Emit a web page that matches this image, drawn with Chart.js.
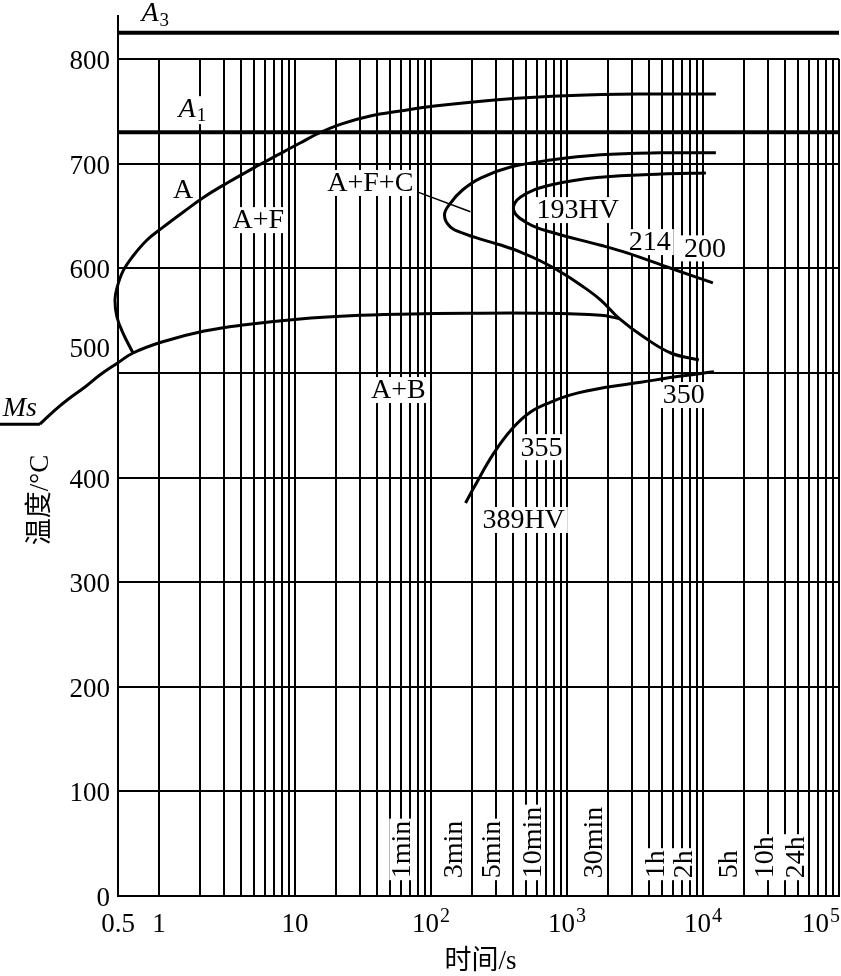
<!DOCTYPE html>
<html>
<head>
<meta charset="utf-8">
<title>CCT</title>
<script src="https://cdn.jsdelivr.net/npm/chart.js@4.4.0/dist/chart.umd.min.js"></script>
<style>
  html, body { margin: 0; padding: 0; background: #fff; }
  #wrap { width: 841px; height: 976px; }
</style>
</head>
<body>
<div id="wrap"><canvas id="cctChart" width="841" height="976" style="width:841px;height:976px"></canvas></div>
<script>
// 坐标轴刻度
const xTickValues = [0.5, 1, 10, 100, 1000, 10000, 100000];
const xTickLabels = [['0.5'], ['1'], ['10'], ['10', '2'], ['10', '3'], ['10', '4'], ['10', '5']];
const yTickValues = [0, 100, 200, 300, 400, 500, 600, 700, 800];
const yTickLabels = ['0', '100', '200', '300', '400', '500', '600', '700', '800'];

// 对数坐标纸的竖线 (1..9 x 10^k)
const xGridValues = [0.5];
for (let k = 0; k < 5; k++) {
  for (let m = 1; m < 10; m++) xGridValues.push(m * Math.pow(10, k));
}
xGridValues.push(100000);

// 临界温度
const a3Temp = 825;
const a1Temp = 730;
const msTemp = 451;
const axisTopTemp = 842;

// 铁素体开始线 (A / A+F)
const ferriteTime = [0.645, 0.544, 0.491, 0.475, 0.491, 0.544, 0.645, 0.817, 1.05, 1.504, 2.15, 3.17, 5.27, 7.80, 10.9, 14.8, 21.8, 35.8, 59.6, 106, 325, 1084, 3490, 12440];
const ferriteTemp = [519, 538, 553.4, 569.6, 581, 597.3, 611.7, 627, 638.4, 653.6, 668.1, 681.5, 697.7, 709.6, 719.7, 728.8, 737.8, 745.5, 750.3, 755, 761.3, 765.1, 766.5, 766.5];

// 贝氏体开始线 (从右到左)
const bainiteTime = [2400, 1770, 640, 195, 59.6, 25.5, 10.9, 4.30, 2.15, 1.05, 0.645, 0.491, 0.368, 0.286, 0.221, 0.172, 0.1333];
const bainiteTemp = [552, 555, 557, 557, 556, 554.5, 551.5, 546, 540, 529.5, 519, 509, 498, 486.5, 476, 464.5, 451];

// Ms 水平段
const msTime = [0.1333, 0.066];

// 珠光体开始线 (A+F+C)
const pearliteStartTime = [12440, 4900, 1771, 758, 385, 231.5, 170.6, 139.2, 125.7, 139.2, 179.6, 231.5, 325, 456, 640, 899, 1261, 1771, 2403, 3672, 5801, 9329];
const pearliteStartTemp = [710.3, 710.3, 708.4, 703.4, 696.7, 686.2, 674.8, 662.3, 650.9, 639.4, 632.7, 627.9, 622.2, 615.5, 606.9, 596.4, 584, 569.6, 552.4, 534.3, 519, 512.3];

// 珠光体终了线
const pearliteEndTime = [10500, 4900, 1770, 758, 456, 405, 514, 758, 1770, 2800, 5790, 11830];
const pearliteEndTemp = [691, 690, 687, 679.5, 668, 655.6, 643, 634.6, 622, 614.5, 600, 586];

// 贝氏体转变线 (389HV ~ 350)
const lowerTime = [179.5, 206, 289, 398, 540, 759, 1065, 1995, 3490, 6110, 12030];
const lowerTemp = [375.6, 390, 423, 447, 462.6, 472, 479, 486.5, 491, 496, 501];

// A+F+C 引线
const leaderTime = [79.4, 195];
const leaderTemp = [673, 654];

// 区域与硬度标注
const regionText = ['A', 'A+F', 'A+F+C', '193HV', '214', '200', 'A+B', '350', '355', '389HV'];
const regionTime = [1.505, 5.37, 35.8, 1200, 4060, 10330, 57.5, 7230, 651, 480];
const regionTemp = [675, 646, 681.5, 655.6, 625, 619, 483.6, 478.8, 429, 359.4];

// 时间标注
const markText = ['1min', '3min', '5min', '10min', '30min', '1h', '2h', '5h', '10h', '24h'];
const markTime = [60.5, 146.5, 279, 559, 1573, 4500, 7230, 15500, 28500, 48200];
const markBaseTemp = 17;

// 临界点标注
const critText = ['A', 'A', 'Ms'];
const critSub = ['3', '1', ''];
const critTime = [0.86, 1.61, 0.0948];
const critTemp = [844, 753, 466.4];

const serif = '"Liberation Serif", "Times New Roman", serif';
const cjk = '"Liberation Serif", "Noto Sans CJK SC", sans-serif';

function pts(times, temps) {
  return times.map((t, i) => ({ x: t, y: temps[i] }));
}

function curve(label, data, width, tension) {
  return {
    label: label,
    data: data,
    borderColor: '#000',
    borderWidth: width,
    pointRadius: 0,
    tension: tension,
    fill: false,
    clip: false
  };
}

const labelPlugin = {
  id: 'cctLabels',
  beforeDatasetsDraw(chart) {
    const { ctx, scales: { x, y } } = chart;
    ctx.save();
    ctx.textBaseline = 'middle';
    ctx.font = '28px ' + serif;

    // 区域标注 (白底遮住网格)
    ctx.textAlign = 'center';
    regionText.forEach((txt, i) => {
      const px = x.getPixelForValue(regionTime[i]);
      const py = y.getPixelForValue(regionTemp[i]);
      const w = ctx.measureText(txt).width;
      ctx.fillStyle = '#fff';
      ctx.fillRect(px - w / 2 - 3, py - 13, w + 6, 26);
      ctx.fillStyle = '#000';
      ctx.fillText(txt, px, py + 1);
    });

    // 竖排时间标注
    markText.forEach((txt, i) => {
      const px = x.getPixelForValue(markTime[i]);
      const py = y.getPixelForValue(markBaseTemp);
      ctx.save();
      ctx.translate(px, py);
      ctx.rotate(-Math.PI / 2);
      ctx.textAlign = 'left';
      const w = ctx.measureText(txt).width;
      ctx.fillStyle = '#fff';
      ctx.fillRect(-2, -12, w + 4, 24);
      ctx.fillStyle = '#000';
      ctx.fillText(txt, 0, 1);
      ctx.restore();
    });

    // A3, A1, Ms
    critText.forEach((txt, i) => {
      const px = x.getPixelForValue(critTime[i]);
      const py = y.getPixelForValue(critTemp[i]);
      ctx.font = 'italic 28px ' + serif;
      ctx.textAlign = 'center';
      const w = ctx.measureText(txt).width;
      if (critSub[i]) {
        ctx.fillStyle = '#fff';
        ctx.fillRect(px - w / 2 - 2, py - 12, w + 16, 28);
      }
      ctx.fillStyle = '#000';
      ctx.fillText(txt, px, py + 1);
      if (critSub[i]) {
        ctx.font = '19px ' + serif;
        ctx.textAlign = 'left';
        ctx.fillText(critSub[i], px + w / 2 + 1, py + 8);
      }
    });
    ctx.restore();
  },
  afterDraw(chart) {
    const { ctx, scales: { x, y } } = chart;
    ctx.save();
    ctx.fillStyle = '#000';
    ctx.textBaseline = 'alphabetic';

    // y 轴刻度
    ctx.font = '27px ' + serif;
    ctx.textAlign = 'right';
    yTickValues.forEach((v, i) => {
      const py = y.getPixelForValue(v) + (v === 500 ? -16 : 10);
      ctx.fillText(yTickLabels[i], 110, py);
    });

    // x 轴刻度 (带上标)
    ctx.textAlign = 'left';
    const baseY = y.bottom + 36;
    xTickValues.forEach((v, i) => {
      const base = xTickLabels[i][0];
      const exp = xTickLabels[i][1];
      ctx.font = '27px ' + serif;
      const wb = ctx.measureText(base).width;
      ctx.font = '20px ' + serif;
      const we = exp ? ctx.measureText(exp).width + 1 : 0;
      let left = x.getPixelForValue(v) - (wb + we) / 2;
      if (left + wb + we > chart.width - 1) left = chart.width - 1 - wb - we;
      ctx.font = '27px ' + serif;
      ctx.fillText(base, left, baseY);
      if (exp) {
        ctx.font = '20px ' + serif;
        ctx.fillText(exp, left + wb + 1, baseY - 10);
      }
    });

    // 轴标题
    ctx.font = '27px ' + cjk;
    ctx.textAlign = 'center';
    ctx.textBaseline = 'middle';
    ctx.fillText('时间/s', (x.left + x.right) / 2 + 2, 962);
    ctx.save();
    ctx.translate(41, 500);
    ctx.rotate(-Math.PI / 2);
    ctx.fillText('温度/°C', 0, 0);
    ctx.restore();
    ctx.restore();
  }
};

const ctx = document.getElementById('cctChart').getContext('2d');
const cctChart = new Chart(ctx, {
  type: 'line',
  data: {
    datasets: [
      curve('A3', pts([0.5, 100000], [a3Temp, a3Temp]), 4, 0),
      curve('A1', pts([0.5, 100000], [a1Temp, a1Temp]), 4, 0),
      curve('axis', pts([0.5, 0.5], [800, axisTopTemp]), 2, 0),
      curve('Ms', pts(msTime, [msTemp, msTemp]), 3, 0),
      curve('ferrite', pts(ferriteTime, ferriteTemp), 3, 0.4),
      curve('bainite', pts(bainiteTime, bainiteTemp), 3, 0.4),
      curve('pearliteStart', pts(pearliteStartTime, pearliteStartTemp), 3, 0.4),
      curve('pearliteEnd', pts(pearliteEndTime, pearliteEndTemp), 3, 0.4),
      curve('lower', pts(lowerTime, lowerTemp), 3, 0.4),
      curve('leader', pts(leaderTime, leaderTemp), 1.5, 0)
    ]
  },
  options: {
    responsive: false,
    animation: false,
    devicePixelRatio: 1,
    layout: { padding: { top: 59, right: 2, left: 0, bottom: 0 } },
    plugins: {
      legend: { display: false },
      tooltip: { enabled: false }
    },
    scales: {
      x: {
        type: 'logarithmic',
        min: 0.5,
        max: 100000,
        grid: { color: '#000', lineWidth: 2, drawTicks: false },
        border: { color: '#000', width: 2 },
        ticks: { display: false, autoSkip: false },
        afterBuildTicks: scale => {
          scale.ticks = xGridValues.map(v => ({ value: v }));
        },
        afterFit: scale => {
          scale.height = 80;
          scale.paddingLeft = 0;
          scale.paddingRight = 0;
        }
      },
      y: {
        type: 'linear',
        min: 0,
        max: 800,
        grid: { color: '#000', lineWidth: 2, drawTicks: false },
        border: { color: '#000', width: 2 },
        ticks: { display: false, stepSize: 100 },
        afterFit: scale => {
          scale.width = 118;
          scale.paddingTop = 0;
          scale.paddingBottom = 0;
        }
      }
    }
  },
  plugins: [labelPlugin]
});
</script>
</body>
</html>
